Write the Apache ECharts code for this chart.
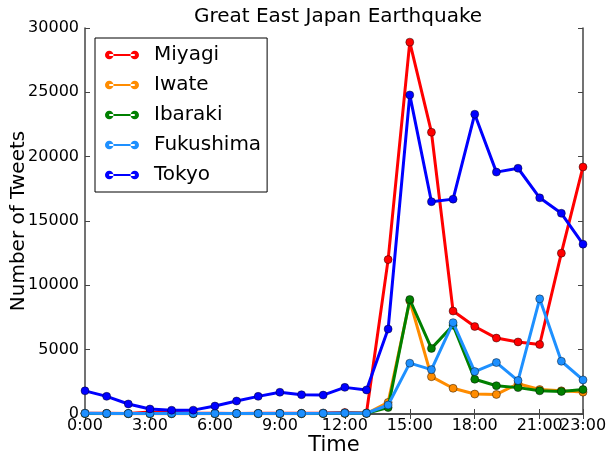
<!DOCTYPE html>
<html><head><meta charset="utf-8">
<script src="https://cdn.jsdelivr.net/npm/echarts@6/dist/echarts.min.js"></script>
<style>html,body{margin:0;padding:0;background:#fff;overflow:hidden}#c{width:607px;height:454px}</style>
</head><body><div id="c"></div>
<script>
var hours = ['0:00','1:00','2:00','3:00','4:00','5:00','6:00','7:00','8:00','9:00','10:00','11:00','12:00','13:00','14:00','15:00','16:00','17:00','18:00','19:00','20:00','21:00','22:00','23:00'];
var miyagi    = [60,50,40,150,120,60,50,40,50,50,60,80,120,80,12000,28900,21900,8000,6800,5900,5600,5400,12500,19200];
var iwate     = [30,20,20,20,20,20,20,20,20,20,20,30,40,40,900,8800,2900,2000,1550,1520,2350,1900,1800,1700];
var ibaraki   = [40,30,30,30,30,30,30,30,30,30,30,40,60,50,500,8900,5100,6900,2700,2200,2050,1800,1750,1900];
var fukushima = [50,40,40,40,40,40,40,40,40,40,40,50,70,60,700,3950,3450,7100,3300,4000,2600,8950,4100,2650];
var tokyo     = [1800,1370,780,390,290,300,620,1010,1370,1690,1500,1470,2070,1870,6600,24800,16500,16700,23300,18800,19100,16800,15600,13200];

var names = ['Miyagi','Iwate','Ibaraki','Fukushima','Tokyo'];
var datas = [miyagi, iwate, ibaraki, fukushima, tokyo];
var colors = ['#ff0000','#ff8c00','#008000','#1e90ff','#0000ff'];
var FONT = 'DejaVu Sans';
var showIdx = function (i) { return i % 3 === 0 || i === 23; };
var mainIdx = function (i) { return i % 3 === 0; };
var lastIdx = function (i) { return i === 23; };
var legendIcon = 'path://M0,5a5,5 0 1,0 10,0a5,5 0 1,0 -10,0z M30,5a5,5 0 1,0 10,0a5,5 0 1,0 -10,0z M5,3.8h30v2.4h-30z';

var el = document.getElementById('c');
var chart = echarts.init(el, null, {renderer: 'canvas'});
var labelStyle = {fontFamily: FONT, fontSize: 16, color: '#000', margin: 4};
chart.setOption({
  animation: false,
  backgroundColor: '#fff',
  textStyle: {fontFamily: FONT},
  title: {
    text: 'Great East Japan Earthquake', left: 333, top: 2, textAlign: 'center',
    textStyle: {fontFamily: FONT, fontSize: 20, fontWeight: 'normal', color: '#000'}
  },
  legend: {
    orient: 'vertical', left: 95, top: 38,
    data: names.map(function (n) { return {name: n, icon: legendIcon}; }),
    itemWidth: 34, itemHeight: 9, itemGap: 10,
    padding: [7, 6, 7, 10],
    borderColor: '#000', borderWidth: 1, backgroundColor: '#fff',
    itemStyle: {borderWidth: 0},
    textStyle: {fontFamily: FONT, fontSize: 20, color: '#000', padding: [0, 0, 0, 10]}
  },
  grid: {left: 85, right: 24, top: 28, bottom: 40, containLabel: false, outerBoundsMode: 'none'},
  xAxis: [{
    type: 'category', data: hours, boundaryGap: false,
    name: 'Time', nameLocation: 'middle', nameGap: 21, nameMoveOverlap: false,
    nameTextStyle: {fontFamily: FONT, fontSize: 21, color: '#000'},
    axisLine: {lineStyle: {color: '#444', width: 1.5}},
    axisTick: {inside: true, length: 5, interval: showIdx, lineStyle: {color: '#444'}},
    axisLabel: Object.assign({interval: mainIdx}, labelStyle),
    splitLine: {show: false}
  }, {
    type: 'category', data: hours, boundaryGap: false, position: 'top',
    axisLine: {lineStyle: {color: '#444', width: 1.5}},
    axisTick: {inside: true, length: 5, interval: showIdx, lineStyle: {color: '#444'}},
    axisLabel: {show: false}, splitLine: {show: false}
  }, {
    type: 'category', data: hours, boundaryGap: false, position: 'bottom',
    axisLine: {show: false}, axisTick: {show: false},
    axisLabel: Object.assign({interval: lastIdx, showMinLabel: false, showMaxLabel: true}, labelStyle),
    splitLine: {show: false}
  }],
  yAxis: [{
    type: 'value', min: 0, max: 30000, interval: 5000,
    name: 'Number of Tweets', nameLocation: 'middle', nameGap: 56, nameMoveOverlap: false,
    nameTextStyle: {fontFamily: FONT, fontSize: 20, color: '#000'},
    axisLine: {show: true, lineStyle: {color: '#444', width: 1.5}},
    axisTick: {show: true, inside: true, length: 5, lineStyle: {color: '#444'}},
    axisLabel: {fontFamily: FONT, fontSize: 16, color: '#000', margin: 6, formatter: function (v) { return String(v); }},
    splitLine: {show: false}
  }, {
    type: 'value', min: 0, max: 30000, interval: 5000, position: 'right',
    axisLine: {show: true, lineStyle: {color: '#444', width: 1.5}},
    axisTick: {show: true, inside: true, length: 5, lineStyle: {color: '#444'}},
    axisLabel: {show: false}, splitLine: {show: false}
  }],
  series: names.map(function (n, i) {
    return {
      name: n, type: 'line', data: datas[i], xAxisIndex: 0, yAxisIndex: 0,
      symbol: 'circle', symbolSize: 8, showAllSymbol: true,
      lineStyle: {color: colors[i], width: 3},
      itemStyle: {color: colors[i], borderColor: 'rgba(0,0,0,0.55)', borderWidth: 0.8},
      z: 2 + i
    };
  })
});
</script></body></html>
